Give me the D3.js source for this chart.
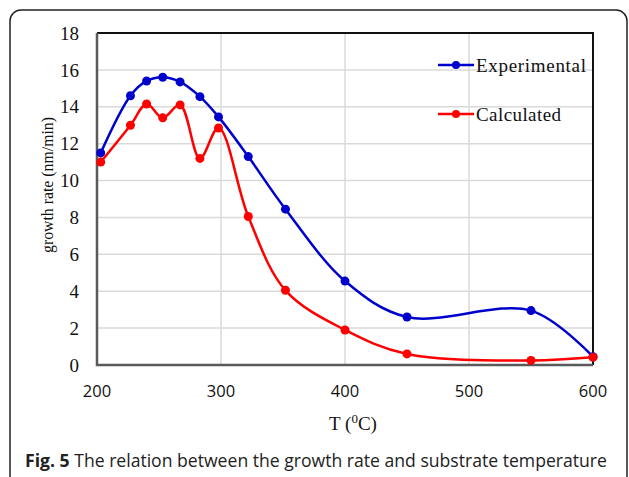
<!DOCTYPE html>
<html>
<head>
<meta charset="utf-8">
<script src="https://cdn.jsdelivr.net/npm/d3@7"></script>
<style>
  body { margin: 0; background: #fff; }
  svg { display: block; }
</style>
</head>
<body>
<div id="chart"></div>
<script>
// temperatures (°C)
const temps = [203, 227, 240, 253, 267, 283, 298, 322, 352, 400, 450, 550, 600];
const experimental = [11.5, 14.6, 15.4, 15.6, 15.35, 14.55, 13.45, 11.3, 8.45, 4.55, 2.6, 2.95, 0.45];
const calculated = [11.0, 13.0, 14.15, 13.4, 14.1, 11.2, 12.85, 8.05, 4.05, 1.9, 0.6, 0.25, 0.42];
const xTicks = [200, 300, 400, 500, 600];
const yTicks = [0, 2, 4, 6, 8, 10, 12, 14, 16, 18];

const W = 629, H = 477;
const m = { left: 97, right: 593, top: 33, bottom: 365 };
const serif = '"Liberation Serif", "Times New Roman", serif';
const sans = '"Open Sans", sans-serif';

const svg = d3.select('#chart').append('svg')
  .attr('width', W).attr('height', H);

// rounded frame round the figure (runs off the page at right/bottom)
svg.append('rect')
  .attr('x', 10).attr('y', 10)
  .attr('width', 617).attr('height', 520)
  .attr('rx', 11)
  .attr('fill', 'none').attr('stroke', '#222').attr('stroke-width', 1.5);

const x = d3.scaleLinear().domain([200, 600]).range([m.left, m.right]);
const y = d3.scaleLinear().domain([0, 18]).range([m.bottom, m.top]);

// grid
svg.append('g').selectAll('line')
  .data(yTicks.slice(1, -1))
  .join('line')
    .attr('x1', m.left).attr('x2', m.right)
    .attr('y1', d => y(d)).attr('y2', d => y(d))
    .attr('stroke', '#dadada').attr('stroke-width', 1.5);
svg.append('g').selectAll('line')
  .data(xTicks.slice(1, -1))
  .join('line')
    .attr('y1', m.top).attr('y2', m.bottom)
    .attr('x1', d => x(d)).attr('x2', d => x(d))
    .attr('stroke', '#dadada').attr('stroke-width', 1.5);

// plot box: top/right black, left/bottom dark grey
svg.append('path')
  .attr('d', `M${m.left},${m.top}H${m.right}V${m.bottom}`)
  .attr('fill', 'none').attr('stroke', '#111').attr('stroke-width', 2);
svg.append('path')
  .attr('d', `M${m.left},${m.top}V${m.bottom}H${m.right}`)
  .attr('fill', 'none').attr('stroke', '#5a5a5a').attr('stroke-width', 2.5);

// y tick labels (serif)
svg.append('g').selectAll('text')
  .data(yTicks)
  .join('text')
    .attr('x', 79).attr('y', d => y(d))
    .attr('dy', '0.35em')
    .attr('text-anchor', 'end')
    .attr('font-family', serif)
    .attr('font-size', 19)
    .attr('fill', '#111')
    .text(d => d);

// x tick labels (sans)
svg.append('g').selectAll('text')
  .data(xTicks)
  .join('text')
    .attr('x', d => x(d)).attr('y', 397)
    .attr('text-anchor', 'middle')
    .attr('font-family', sans)
    .attr('font-size', 16.5)
    .attr('fill', '#111')
    .text(d => d);

// axis titles
svg.append('text')
  .attr('transform', 'translate(53,185) rotate(-90)')
  .attr('text-anchor', 'middle')
  .attr('font-family', serif)
  .attr('font-size', 17.5)
  .attr('textLength', 136)
  .attr('lengthAdjust', 'spacingAndGlyphs')
  .attr('fill', '#111')
  .text('growth rate (nm/min)');

const xt = svg.append('text')
  .attr('x', 353).attr('y', 430)
  .attr('text-anchor', 'middle')
  .attr('font-family', serif)
  .attr('font-size', 19)
  .attr('fill', '#111');
xt.append('tspan').text('T (');
xt.append('tspan').attr('dy', -7).attr('font-size', 13).text('0');
xt.append('tspan').attr('dy', 7).text('C)');

// series
const series = [
  { name: 'Experimental', values: experimental, color: '#0000cc', ly: 65, tl: 110 },
  { name: 'Calculated', values: calculated, color: '#ff0000', ly: 114, tl: 85 }
];

const line = d3.line()
  .x(d => x(d[0])).y(d => y(d[1]))
  .curve(d3.curveCatmullRom.alpha(0.5));

series.forEach(s => {
  const pts = temps.map((t, i) => [t, s.values[i]]);
  svg.append('path')
    .datum(pts)
    .attr('d', line)
    .attr('fill', 'none')
    .attr('stroke', s.color)
    .attr('stroke-width', 2.5);
  svg.append('g').selectAll('circle')
    .data(pts)
    .join('circle')
      .attr('cx', d => x(d[0])).attr('cy', d => y(d[1]))
      .attr('r', 4.5)
      .attr('fill', s.color);

  // legend entry
  svg.append('line')
    .attr('x1', 438).attr('x2', 474)
    .attr('y1', s.ly).attr('y2', s.ly)
    .attr('stroke', s.color).attr('stroke-width', 2.5);
  svg.append('circle')
    .attr('cx', 456).attr('cy', s.ly).attr('r', 4)
    .attr('fill', s.color);
  svg.append('text')
    .attr('x', 476).attr('y', s.ly + 6.5)
    .attr('font-family', serif)
    .attr('font-size', 19)
    .attr('textLength', s.tl)
    .attr('lengthAdjust', 'spacing')
    .attr('fill', '#111')
    .text(s.name);
});

// caption
const cap = svg.append('text')
  .attr('x', 25).attr('y', 467)
  .attr('font-family', sans)
  .attr('font-size', 17.6)
  .attr('fill', '#222');
cap.append('tspan').attr('font-weight', 'bold').text('Fig. 5');
cap.append('tspan').text(' The relation between the growth rate and substrate temperature');
</script>
</body>
</html>
